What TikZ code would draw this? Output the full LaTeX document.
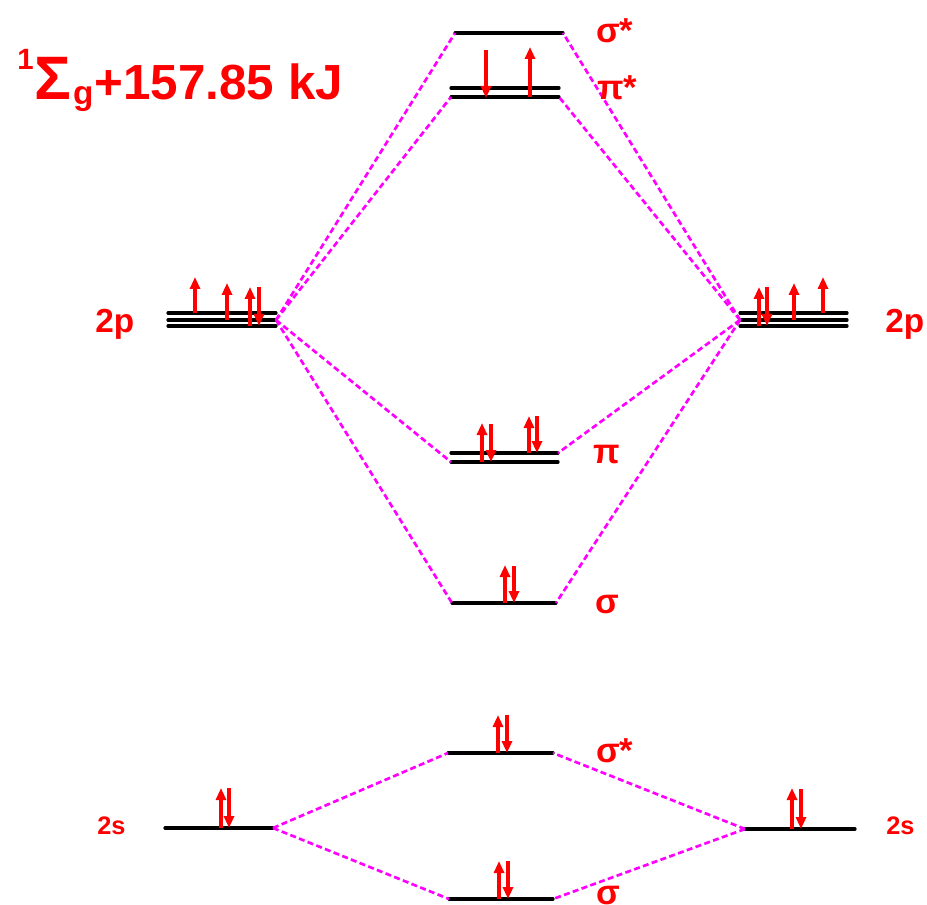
\documentclass[tikz,border=0pt]{standalone}
\usepackage{fontspec}
\setmainfont{Liberation Sans}
\usetikzlibrary{arrows.meta}
\definecolor{linkmag}{RGB}{255,0,255}
\tikzset{
    level/.style={line width=2.4pt, line cap=round},
    link/.style={linkmag, line width=2pt, dash pattern=on 4.5pt off 2.5pt},
    spin/.style={red, line width=2.5pt, ->},
    lab/.style={red, inner sep=0pt, anchor=base west, font=\bfseries\fontsize{26}{26}\selectfont},
    ao/.style={lab, font=\bfseries\fontsize{25}{25}\selectfont},
    aos/.style={lab, font=\bfseries\fontsize{19}{19}\selectfont},
}
\begin{document}
\begin{tikzpicture}[>={Triangle[length=9pt,width=7.5pt]}, x=0.75pt, y=-0.75pt]
    \useasboundingbox (0,0) rectangle (927,905);

    % term symbol
    \node[lab, font=\bfseries\fontsize{37}{37}\selectfont] (term) at (17,100)
        {\raisebox{23pt}{\fontsize{22}{22}\selectfont 1}\kern1pt{\fontsize{46}{46}\selectfont Σ}\kern1pt\raisebox{-3.5pt}{\fontsize{25}{25}\selectfont g}\kern1pt+157.85 kJ};

    % atomic levels
    \foreach \y in {313,320,326}
    {
        \draw[level] (168,\y)--(276,\y);
        \draw[level] (740,\y)--(847,\y);
    }
    \coordinate (p1) at (276,320);
    \coordinate (p2) at (740,320);
    \draw[level] (165,828)--(273,828) coordinate (s1);
    \draw[level] (855,829)--(745,829) coordinate (s2);

    % molecular levels
    \draw[level] (455,33) coordinate (ss2l)--(563,33) coordinate (ss2r);
    \draw[level] (451,88)--(559,88);
    \draw[level] (451,97) coordinate (pp2l)--(559,97) coordinate (pp2r);
    \draw[level] (451,453)--(558,453) coordinate (pi2r);
    \draw[level] (451,462) coordinate (pi2l)--(558,462);
    \draw[level] (452,603) coordinate (sg2l)--(556,603) coordinate (sg2r);
    \draw[level] (448,753) coordinate (ss1l)--(553,753) coordinate (ss1r);
    \draw[level] (449,899) coordinate (sg1l)--(553,899) coordinate (sg1r);

    % correlation lines
    \foreach \m in {ss2l,pp2l,pi2l,sg2l}
        \draw[link] (p1)--(\m);
    \foreach \m in {ss2r,pp2r,pi2r,sg2r}
        \draw[link] (p2)--(\m);
    \foreach \m in {ss1l,sg1l}
        \draw[link] (s1)--(\m);
    \foreach \m in {ss1r,sg1r}
        \draw[link] (s2)--(\m);

    % electrons
    \foreach \x/\a/\b in {195/313/277, 227/320/283, 250/326/287, 259/287/326,
        759/326/287, 767/287/326, 794/320/283, 823/313/277,
        486/50/98, 530/97/47,
        482/462/423, 491/424/462, 529/453/416, 537/416/453,
        505/603/565, 514/566/603,
        221/828/788, 229/788/828, 792/829/788, 801/789/829,
        498/753/715, 507/715/753, 499/899/861, 508/861/899}
    {
        \draw[spin] (\x,\a)--(\x,\b);
    }

    % labels
    \node[ao] (p1lab) at (95,333) {2p};
    \node[ao] (p2lab) at (885,333) {2p};
    \node[aos] (s1lab) at (97,834) {2s};
    \node[aos] (s2lab) at (886,834) {2s};
    \node[lab] (ss2lab) at (596,43) {σ*};
    \node[lab] (pp2lab) at (597,100) {π*};
    \node[lab] (pi2lab) at (593,463) {π};
    \node[lab] (sg2lab) at (595,613) {σ};
    \node[lab] (ss1lab) at (596,762) {σ*};
    \node[lab] (sg1lab) at (596,904) {σ};

\end{tikzpicture}
\end{document}
